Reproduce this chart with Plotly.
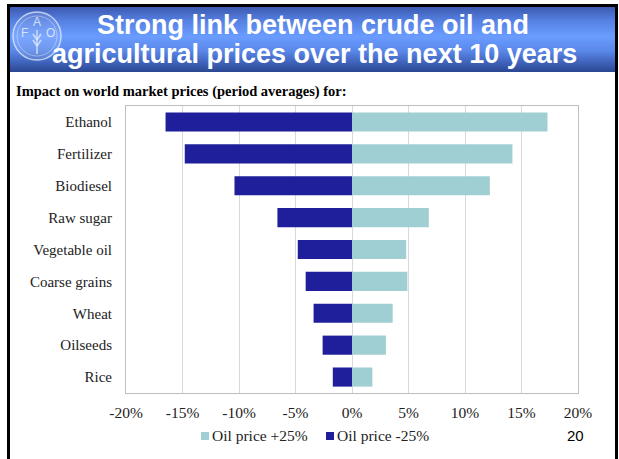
import plotly.graph_objects as go

# Commodities, listed top to bottom
categories = ["Ethanol", "Fertilizer", "Biodiesel", "Raw sugar", "Vegetable oil",
              "Coarse grains", "Wheat", "Oilseeds", "Rice"]
# Impact on world market prices, period averages (fraction)
oil_up_25 = [0.173, 0.142, 0.122, 0.068, 0.048, 0.049, 0.036, 0.030, 0.018]
oil_down_25 = [-0.165, -0.148, -0.104, -0.066, -0.048, -0.041, -0.034, -0.026, -0.017]
series_names = ["Oil price +25%", "Oil price -25%"]
x_ticks = [-0.20, -0.15, -0.10, -0.05, 0.0, 0.05, 0.10, 0.15, 0.20]
x_tick_labels = ["%d%%" % round(v * 100) for v in x_ticks]

W, H = 619, 459
L, R, T, B = 126, 578, 106, 393  # plot area in pixels

LIGHT = "#a0cfd3"
DARK = "#1f1f9b"
SERIF = "Liberation Serif"
SANS = "Liberation Sans"


def px(x):
    return (x - L) / (R - L)


def py(y):
    return (B - y) / (B - T)


fig = go.Figure()
fig.add_trace(go.Bar(y=categories, x=oil_up_25, orientation="h", name=series_names[0],
                     marker=dict(color=LIGHT, line=dict(width=0))))
fig.add_trace(go.Bar(y=categories, x=oil_down_25, orientation="h", name=series_names[1],
                     marker=dict(color=DARK, line=dict(width=0))))

shapes = []

# Header band with a vertical blue gradient
stops = [(7, (0x3d, 0x5b, 0xb2)), (20, (0x55, 0x80, 0xe2)), (36, (0x6a, 0x9c, 0xff)),
         (50, (0x5a, 0x88, 0xea)), (62, (0x3f, 0x63, 0xba)), (72, (0x2a, 0x45, 0x90))]
for y0 in range(7, 72):
    for (a, ca), (b, cb) in zip(stops[:-1], stops[1:]):
        if a <= y0 < b:
            t = (y0 - a) / (b - a)
            c = tuple(int(round(ca[i] + (cb[i] - ca[i]) * t)) for i in range(3))
            break
    shapes.append(dict(type="rect", xref="paper", yref="paper",
                       x0=px(9), x1=px(615), y0=py(y0 + 1.05), y1=py(y0),
                       fillcolor="rgb(%d,%d,%d)" % c, line=dict(width=0), layer="below"))

# Emblem in the header
shapes.append(dict(type="circle", xref="paper", yref="paper",
                   x0=px(13), x1=px(61), y0=py(60), y1=py(12),
                   fillcolor="rgba(255,255,255,0.12)",
                   line=dict(color="rgba(225,235,255,0.75)", width=1.5)))
shapes.append(dict(type="circle", xref="paper", yref="paper",
                   x0=px(17), x1=px(57), y0=py(56), y1=py(16),
                   fillcolor="rgba(0,0,0,0)",
                   line=dict(color="rgba(225,235,255,0.45)", width=1)))
for x0, x1, y0, y1 in [(37, 37, 30, 54), (33, 37, 34, 40), (41, 37, 34, 40),
                       (33, 37, 40, 46), (41, 37, 40, 46)]:
    shapes.append(dict(type="line", xref="paper", yref="paper",
                       x0=px(x0), x1=px(x1), y0=py(y0), y1=py(y1),
                       line=dict(color="rgba(225,235,255,0.8)", width=1.5)))

# Slide frame
for x0, x1, y0, y1 in [(7, 10, 4, 470), (7, 618, 4, 7), (615, 618, 4, 470)]:
    shapes.append(dict(type="rect", xref="paper", yref="paper",
                       x0=px(x0), x1=px(x1), y0=py(y1), y1=py(y0),
                       fillcolor="black", line=dict(width=0)))

# Legend swatches
shapes.append(dict(type="rect", xref="paper", yref="paper",
                   x0=px(201), x1=px(209), y0=py(440), y1=py(432),
                   fillcolor=LIGHT, line=dict(width=0)))
shapes.append(dict(type="rect", xref="paper", yref="paper",
                   x0=px(326), x1=px(334), y0=py(440), y1=py(432),
                   fillcolor=DARK, line=dict(width=0)))

annotations = [
    dict(text="Strong link between crude oil and", x=px(313), y=py(25),
         font=dict(family=SANS, size=27, color="white", weight="bold")),
    dict(text="agricultural prices over the next 10 years", x=px(314), y=py(54),
         font=dict(family=SANS, size=27, color="white", weight="bold")),
    dict(text="F", x=px(24), y=py(33), font=dict(family=SANS, size=12, color="rgba(230,240,255,0.85)")),
    dict(text="A", x=px(37), y=py(22), font=dict(family=SANS, size=12, color="rgba(230,240,255,0.85)")),
    dict(text="O", x=px(50), y=py(33), font=dict(family=SANS, size=12, color="rgba(230,240,255,0.85)")),
    dict(text="Impact on world market prices (period averages) for:", x=px(14), y=py(91),
         xanchor="left", font=dict(family=SERIF, size=14.5, color="black", weight="bold")),
    dict(text=series_names[0], x=px(210), y=py(436), xanchor="left",
         font=dict(family=SERIF, size=15.5, color="#222")),
    dict(text=series_names[1], x=px(335), y=py(436), xanchor="left",
         font=dict(family=SERIF, size=15.5, color="#222")),
    dict(text="20", x=px(575), y=py(436), font=dict(family=SANS, size=15, color="black")),
]
for a in annotations:
    a.update(xref="paper", yref="paper", showarrow=False)
    a.setdefault("xanchor", "center")
    a.setdefault("yanchor", "middle")

fig.update_layout(
    width=W, height=H,
    margin=dict(l=L, r=W - R, t=T, b=H - B),
    paper_bgcolor="white", plot_bgcolor="white",
    barmode="relative", bargap=0.4,
    showlegend=False,
    shapes=shapes, annotations=annotations,
    xaxis=dict(range=[-0.2, 0.2], tickvals=x_ticks, ticktext=x_tick_labels,
               showgrid=True, gridcolor="#d9d9d9", gridwidth=1, zeroline=False,
               showline=True, linecolor="#bfbfbf", mirror=True,
               ticks="outside", ticklen=5, tickcolor="rgba(0,0,0,0)",
               tickfont=dict(family=SERIF, size=15.5, color="#222")),
    yaxis=dict(categoryorder="array", categoryarray=categories, autorange="reversed",
               showgrid=False, zeroline=False,
               showline=True, linecolor="#bfbfbf", mirror=True,
               ticks="outside", ticklen=10, tickcolor="rgba(0,0,0,0)",
               tickfont=dict(family=SERIF, size=15, color="#222")),
)

fig.write_html("out.html")
